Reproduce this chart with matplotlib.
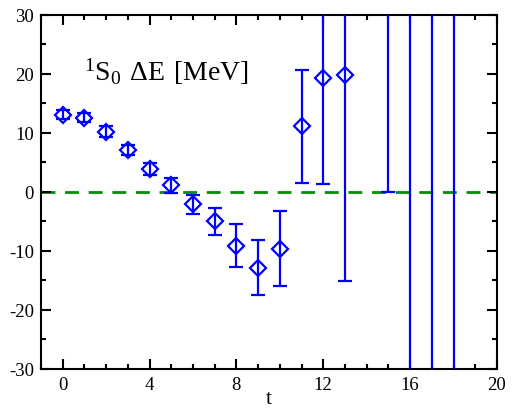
import numpy as np
import matplotlib.pyplot as plt
from matplotlib.ticker import MultipleLocator

#-------------------------------------------------------------------------------------------------

t_vals = [0, 1, 2, 3, 4, 5, 6, 7, 8, 9, 10, 11, 12, 13, 15, 16, 17, 18]
dE = [13.1, 12.6, 10.2, 7.1, 3.9, 1.1, -2.1, -5.0, -9.1, -12.8, -9.6, 11.1, 19.3, 19.9, 45.0, 60.0, 70.0, 80.0]
dE_err = [0.8, 0.8, 0.9, 0.9, 1.0, 1.2, 1.6, 2.3, 3.6, 4.7, 6.4, 9.6, 18.0, 35.0, 45.0, 120.0, 130.0, 140.0]

plt.rcParams['font.family'] = ['Liberation Serif', 'DejaVu Serif']
plt.rcParams['mathtext.fontset'] = 'custom'
plt.rcParams['mathtext.rm'] = 'Liberation Serif'
plt.rcParams['axes.unicode_minus'] = False

#-------------------------------------------------------------------------------------------------

fig = plt.figure(figsize=(5.15, 4.10), dpi=100)
ax = fig.add_axes([0.0796, 0.0976, 0.8854, 0.8634])

ax.axhline(0, color='#009000', lw=2, ls=(0, (5, 3.5)), zorder=1)
ax.errorbar(t_vals, dE, yerr=dE_err, fmt='D', color='#0000ff', mfc='none', mec='#0000ff',
            ms=8.5, mew=1.6, elinewidth=1.6, capsize=5, capthick=1.6, zorder=3)

ax.text(1.0, 20.6, r'$\mathregular{^1S_0\ \Delta E\ [MeV]}$', fontsize=20, va='center', ha='left')

ax.set_xlim(-1, 20)
ax.set_ylim(-30, 30)
ax.xaxis.set_major_locator(MultipleLocator(4))
ax.xaxis.set_minor_locator(MultipleLocator(1))
ax.yaxis.set_major_locator(MultipleLocator(10))
ax.yaxis.set_minor_locator(MultipleLocator(5))
ax.tick_params(which='both', direction='in', top=True, right=True, labelsize=13.5, width=1.5)
ax.tick_params(which='major', length=7, pad=5)
ax.tick_params(which='minor', length=3.5)
for s in ax.spines.values():
	s.set_linewidth(1.5)
ax.set_xlabel('t', fontsize=16, labelpad=-3)

fig.savefig('out.png', dpi=100)
